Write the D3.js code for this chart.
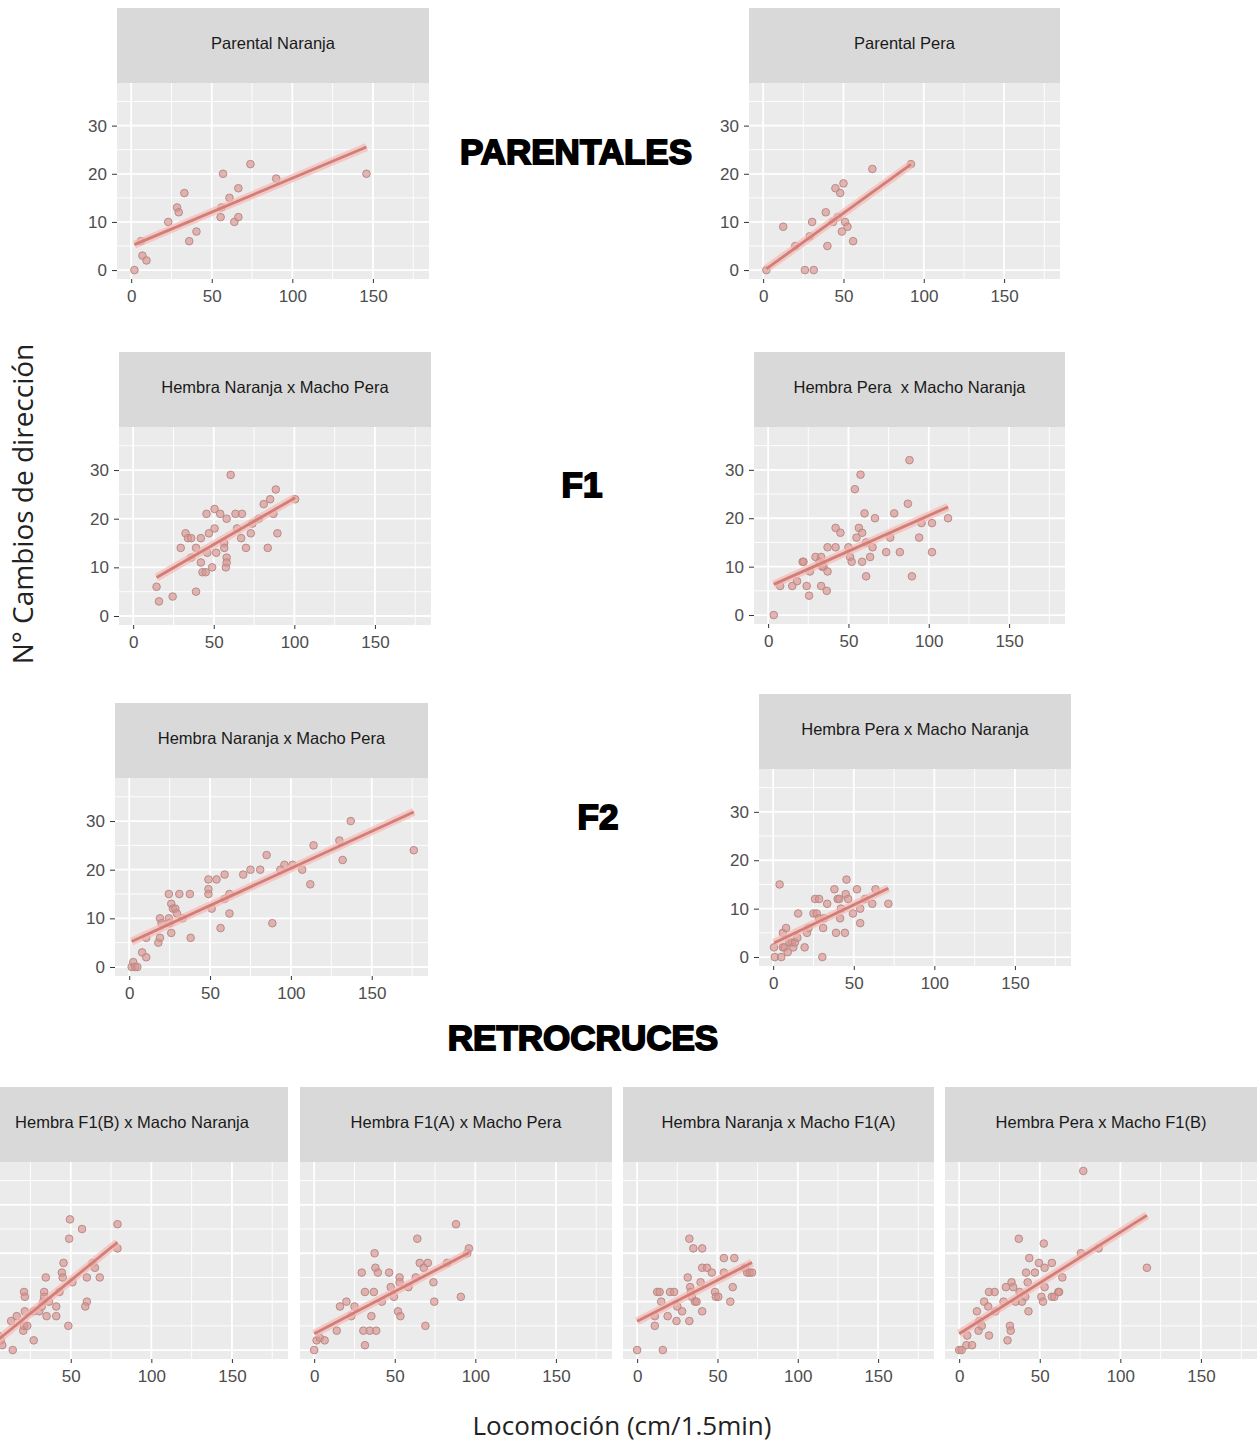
<!DOCTYPE html>
<html>
<head>
<meta charset="utf-8">
<script src="https://cdn.jsdelivr.net/npm/d3@7"></script>
<style>
  body { margin: 0; background: #ffffff; }
  svg { display: block; }
</style>
</head>
<body>
<svg id="chart" width="1257" height="1443"></svg>
<script>
// Locomoción (cm/1.5min) vs N° cambios de dirección, one [x, y] pair per individual

const parentalNaranja = [[2,0],[6,6],[7,3],[9.5,2],[23,10],[28.5,13],[29.5,12],[33,16],[36,6],[40.5,8],
  [55.5,11],[56,13],[57,20],[61,15],[64,10],[66.5,17],[66.5,11],[74,22],[90,19],[146,20]];

const parentalPera = [[2,0],[12.5,9],[20,5],[26,0],[29,7],[30.5,10],[31.5,0],[39,12],[40,5],[43.5,10],
  [45,17],[46.5,11],[48,16],[49,8],[50,18],[51,10],[52.5,9],[56,6],[68,21],[92,22]];

const f1NaranjaPera = [[14.5,6],[16,3],[24.5,4],[29.5,14],[32.5,17],[34,16],[36,16],[36,12],[39,14],[39,5],
  [42,16],[42,11],[43,9],[45,9],[45.5,21],[46,13],[47,17],[49,10],[50.5,18],[50.5,22],[51.5,13],[54,21],
  [56.5,15],[56.5,14],[57.5,10],[58,12],[58,11],[58,20],[60.5,29],[63.5,21],[64.5,18],[67,16],[67.5,21],
  [70,14],[73,17],[74,19],[78,20],[81,23],[83.5,14],[85,24],[87,21],[88.5,26],[89.5,17],[100.5,24]];

const f1PeraNaranja = [[3.5,0],[7.5,6],[15,6],[18,7],[21.5,11],[22,11],[24,6],[25.5,4],[26,9],[29.5,12],
  [32,11],[33,12],[33,6],[33.5,10],[34.5,10],[36.5,5],[37,9],[37,14],[42,18],[42,14],[45,17],[50,14],
  [51,12],[52,11],[54,26],[55,16],[56.5,18],[57.5,29],[58.5,11],[58.5,17],[60,21],[61,8],[61,15],
  [63.5,12],[65,14],[66.5,20],[73.5,13],[76,16],[78.5,21],[82,13],[87,23],[88,32],[89.5,8],[94,16],
  [95.5,19],[102,19],[102,13],[112,20]];

const f2NaranjaPera = [[1.5,0],[2.5,1],[3.5,0],[5,0],[8,3],[10.5,2],[10.5,6],[18,5],[19,6],[19,10],[20,9],
  [24.5,15],[24.5,10],[25,9],[26,7],[26,13],[27,12],[28.5,12],[29.5,11],[31,15],[33,10],[37.5,15],[38,6],
  [49,18],[49,16],[49,15],[51,12],[54,18],[56.5,8],[59,19],[59,14],[62,11],[62,15],[70.5,19],[75,20],
  [81,20],[85,23],[88.5,9],[93.5,20],[96,21],[101,21],[107,20],[112,17],[114,25],[130,26],[132,22],
  [137,30],[176,24]];

const f2PeraNaranja = [[1,0],[0.5,2],[4,15],[5,0],[6,2],[6,5],[8,6],[7,2],[9,1],[10,3],[11.5,3],[12.5,2],
  [13.5,3],[15,4],[15.5,9],[19.5,2],[21,5],[22,6],[25,9],[26,12],[27,9],[28.5,12],[28.5,8],[30.5,0],
  [31,6],[31.5,8],[33.5,11],[38,14],[39,5],[40,12],[41,12],[41.5,8],[42,10],[44.5,5],[45,13],[45.5,16],
  [46.5,12],[49.5,9],[52,14],[54,10],[54,7],[57,12],[61.5,11],[63.5,14],[71.5,11]];

const retroF1BNaranja = [[1,0],[2,2],[3.5,1],[5,3],[6.5,2],[7.5,1],[13,6],[14,0],[16.5,7],[20.5,4],[21,12],
  [21.5,11],[21,5],[21.5,8],[23,5],[27,2],[27,8],[30.5,8],[32,9],[33,10],[33.5,12],[34.5,15],[33.5,11],
  [35,7],[36.5,10],[41,9],[41,7],[43,12],[44.5,16],[45,15],[45.5,18],[48.5,5],[49,23],[49.5,27],[51,14],
  [57,25],[60,15],[60,10],[59,9],[63.5,18],[65,17],[68,15],[79,26],[79,21]];

const retroF1APera = [[0,0],[1.5,2],[3.5,2.5],[6.5,2],[14,4],[16,9],[20,10],[23,7],[25,9],[29.5,16],
  [30.5,4],[31.5,1],[31.5,12],[34.5,4],[35.5,7],[37,12],[37.5,20],[38,17],[38.5,4],[39.5,16],[42,10],
  [46.5,16],[47.5,13],[49.5,11],[52,8],[53,15],[53,14],[53.5,7],[58.5,13],[63,15],[64,23],[65.5,18],
  [68,17],[69,5],[70.5,18],[74,14],[74.5,10],[82.5,18],[88,26],[91,11],[95,20],[96,21]];

const retroNaranjaF1A = [[0,0],[16,0],[11,5],[11,7],[12.5,12],[14,12],[15,10],[19,7],[20.5,12],[23,12],
  [24.5,6],[25,9],[28,8],[31.5,15],[32.5,6],[32.5,23],[33,13],[33.5,12],[34,11],[35,21],[36,10],[37,10],
  [39.5,14],[40.5,21],[40.5,8],[40.5,17],[43.5,17],[46.5,16],[48.5,12],[49,11],[50.5,11],[54,19],
  [54,16],[58,10],[59.5,13],[60.5,19],[67,17],[68.5,16],[70,16],[71.5,16]];

const retroPeraF1B = [[0,0],[1.5,0],[4.5,1],[5,3],[8,1],[11,8],[12,4],[12.5,6],[14,5],[15.5,10],[18,9],
  [18.5,12],[18.5,3],[22,12],[22.5,8],[27.5,10],[29,13],[30,2],[31.5,5],[32,4],[32.5,14],[33.5,13],
  [35,10],[37,23],[37.5,12],[39,10],[41,11],[41.5,16],[42.5,14],[43,8],[43.5,19],[47,16],[49.5,18],
  [51,11],[52,10],[52.5,22],[53,17],[53,13],[57.5,11],[57.5,18],[59,11],[61.5,12],[62,12],[64,15],
  [75.5,20],[77,37],[86.5,21],[116.5,17]];

const panelTitles = [
  "Parental Naranja", "Parental Pera",
  "Hembra Naranja x Macho Pera", "Hembra Pera  x Macho Naranja",
  "Hembra Naranja x Macho Pera", "Hembra Pera x Macho Naranja",
  "Hembra F1(B) x Macho Naranja", "Hembra F1(A) x Macho Pera",
  "Hembra Naranja x Macho F1(A)", "Hembra Pera x Macho F1(B)"
];
const panelData = [parentalNaranja, parentalPera, f1NaranjaPera, f1PeraNaranja,
  f2NaranjaPera, f2PeraNaranja, retroF1BNaranja, retroF1APera, retroNaranjaF1A, retroPeraF1B];

const sectionTitles = ["PARENTALES", "F1", "F2", "RETROCRUCES"];
const xTicks = [0, 50, 100, 150];
const xMinor = [25, 75, 125, 175];
const yTicks = [0, 10, 20, 30];
const yMinor = [5, 15, 25, 35];
const yAxisTitle = "N° Cambios de dirección";
const xAxisTitle = "Locomoción (cm/1.5min)";

// Shared scale limits (data range plus 5% padding on each side)
const xDomain = [-8.8, 184.8];
const yDomain = [-1.85, 38.85];

// Placement of each facet on the page: strip top, panel top/bottom, panel left/right
const layout = [
  { left: 117, right: 429, stripTop: 8,    top: 83,   bottom: 279,  yAxis: true },
  { left: 749, right: 1060, stripTop: 8,   top: 83,   bottom: 279,  yAxis: true },
  { left: 119, right: 431, stripTop: 352,  top: 427,  bottom: 625,  yAxis: true },
  { left: 754, right: 1065, stripTop: 352, top: 427,  bottom: 624,  yAxis: true },
  { left: 115, right: 428, stripTop: 703,  top: 778,  bottom: 976,  yAxis: true },
  { left: 759, right: 1071, stripTop: 694, top: 769,  bottom: 966,  yAxis: true },
  { left: -24, right: 288, stripTop: 1087, top: 1162, bottom: 1359, yAxis: false },
  { left: 300, right: 612, stripTop: 1087, top: 1162, bottom: 1359, yAxis: false },
  { left: 623, right: 934, stripTop: 1087, top: 1162, bottom: 1359, yAxis: false },
  { left: 945, right: 1257, stripTop: 1087, top: 1162, bottom: 1359, yAxis: false }
];

const sectionPos = [
  { x: 576, y: 151 }, { x: 582, y: 484 }, { x: 598, y: 816 }, { x: 583, y: 1037 }
];

const svg = d3.select("#chart");
const font = "'Liberation Sans', Arial, sans-serif";
const pageWidth = +svg.attr("width");

function linearFit(pts) {
  const mx = d3.mean(pts, d => d[0]);
  const my = d3.mean(pts, d => d[1]);
  let sxy = 0, sxx = 0;
  pts.forEach(([px, py]) => { sxy += (px - mx) * (py - my); sxx += (px - mx) ** 2; });
  const slope = sxy / sxx;
  return { slope, intercept: my - slope * mx };
}

panelData.forEach((pts, i) => {
  const L = layout[i];
  const g = svg.append("g");
  const x = d3.scaleLinear().domain(xDomain).range([L.left, L.right]);
  const y = d3.scaleLinear().domain(yDomain).range([L.bottom, L.top]);

  // facet strip
  g.append("rect")
    .attr("x", L.left).attr("y", L.stripTop)
    .attr("width", L.right - L.left).attr("height", L.top - L.stripTop)
    .attr("fill", "#d9d9d9");
  g.append("text")
    .attr("x", (L.left + L.right) / 2)
    .attr("y", (L.stripTop + L.top) / 2 - 3)
    .attr("text-anchor", "middle")
    .attr("dominant-baseline", "central")
    .attr("font-family", font)
    .attr("font-size", 16.5)
    .attr("fill", "#1a1a1a")
    .style("white-space", "pre")
    .text(panelTitles[i]);

  // panel background and grid
  g.append("rect")
    .attr("x", L.left).attr("y", L.top)
    .attr("width", L.right - L.left).attr("height", L.bottom - L.top)
    .attr("fill", "#ebebeb");
  g.selectAll(".vminor").data(xMinor).join("line")
    .attr("x1", d => x(d)).attr("x2", d => x(d))
    .attr("y1", L.top).attr("y2", L.bottom)
    .attr("stroke", "#ffffff").attr("stroke-width", 0.9);
  g.selectAll(".hminor").data(yMinor).join("line")
    .attr("y1", d => y(d)).attr("y2", d => y(d))
    .attr("x1", L.left).attr("x2", L.right)
    .attr("stroke", "#ffffff").attr("stroke-width", 0.9);
  g.selectAll(".vmajor").data(xTicks).join("line")
    .attr("x1", d => x(d)).attr("x2", d => x(d))
    .attr("y1", L.top).attr("y2", L.bottom)
    .attr("stroke", "#ffffff").attr("stroke-width", 1.8);
  g.selectAll(".hmajor").data(yTicks).join("line")
    .attr("y1", d => y(d)).attr("y2", d => y(d))
    .attr("x1", L.left).attr("x2", L.right)
    .attr("stroke", "#ffffff").attr("stroke-width", 1.8);

  // points
  g.selectAll("circle").data(pts).join("circle")
    .attr("cx", d => x(d[0])).attr("cy", d => y(d[1]))
    .attr("r", 3.8)
    .attr("fill", "#d8948f").attr("fill-opacity", 0.65)
    .attr("stroke", "#b98a86").attr("stroke-width", 1);

  // least-squares line across the observed range
  const fit = linearFit(pts);
  const xr = d3.extent(pts, d => d[0]);
  const seg = xr.map(v => [x(v), y(fit.intercept + fit.slope * v)]);
  const line = d3.line();
  g.append("path").attr("d", line(seg))
    .attr("stroke", "#f7b8b2").attr("stroke-opacity", 0.7)
    .attr("stroke-width", 8).attr("fill", "none");
  g.append("path").attr("d", line(seg))
    .attr("stroke", "#d07e78").attr("stroke-width", 2.8).attr("fill", "none");

  // axes (labels falling outside the page are left out, as that panel is cut by the page edge)
  const shownTicks = xTicks.filter(v => x(v) - 6 >= 0 && x(v) + 6 <= pageWidth);
  const xa = g.append("g").attr("transform", `translate(0,${L.bottom})`)
    .call(d3.axisBottom(x).tickValues(shownTicks).tickSize(4).tickPadding(7).tickFormat(d3.format("d")));
  xa.select(".domain").remove();
  xa.selectAll("line").attr("stroke", "#333333");
  xa.selectAll("text").attr("font-family", font).attr("font-size", 17).attr("fill", "#4d4d4d");

  if (L.yAxis) {
    const ya = g.append("g").attr("transform", `translate(${L.left},0)`)
      .call(d3.axisLeft(y).tickValues(yTicks).tickSize(5).tickPadding(5).tickFormat(d3.format("d")));
    ya.select(".domain").remove();
    ya.selectAll("line").attr("stroke", "#333333");
    ya.selectAll("text").attr("font-family", font).attr("font-size", 17).attr("fill", "#4d4d4d");
  }
});

// section headings
svg.selectAll(".section").data(sectionTitles).join("text")
  .attr("x", (d, i) => sectionPos[i].x)
  .attr("y", (d, i) => sectionPos[i].y)
  .attr("text-anchor", "middle")
  .attr("dominant-baseline", "central")
  .attr("font-family", font)
  .attr("font-weight", "bold")
  .attr("font-size", 35)
  .attr("fill", "#000")
  .attr("stroke", "#000").attr("stroke-width", 1.8)
  .attr("paint-order", "stroke")
  .text(d => d);

// axis titles
svg.append("text")
  .attr("transform", "translate(22,504) rotate(-90)")
  .attr("text-anchor", "middle")
  .attr("dominant-baseline", "central")
  .attr("font-family", "'Open Sans', sans-serif")
  .attr("font-size", 28)
  .attr("fill", "#222")
  .text(yAxisTitle);

svg.append("text")
  .attr("x", 622).attr("y", 1425)
  .attr("text-anchor", "middle")
  .attr("dominant-baseline", "central")
  .attr("font-family", "'Open Sans', sans-serif")
  .attr("font-size", 26)
  .attr("fill", "#222")
  .text(xAxisTitle);
</script>
</body>
</html>
